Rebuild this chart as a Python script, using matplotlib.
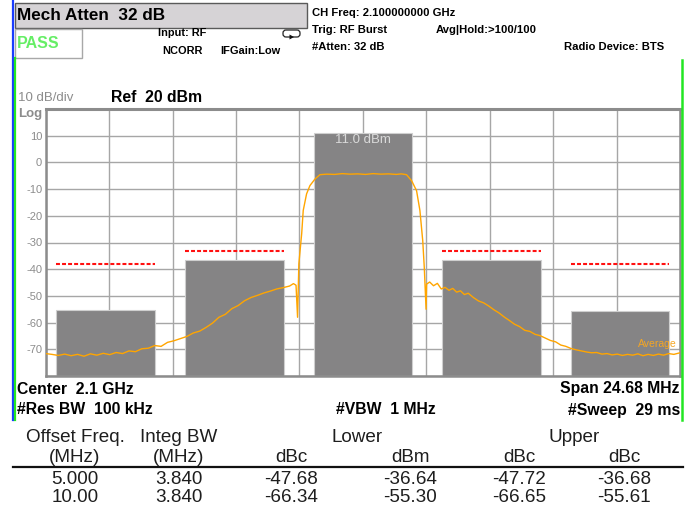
import matplotlib
matplotlib.use("Agg")
import matplotlib.pyplot as plt
from matplotlib.patches import Rectangle, FancyBboxPatch, Polygon
from matplotlib.lines import Line2D
from matplotlib.transforms import Affine2D

# ---- measurement data ----
span_mhz = 24.68
ref_level = 20.0
db_per_div = 10.0

band_offsets = [-10.0, -5.0, 0.0, 5.0, 10.0]          # MHz from carrier
integ_bw = 3.84                                       # MHz
main_power = 11.0                                     # dBm
lower_dbc = [-47.68, -66.34]
lower_dbm = [-36.64, -55.30]
upper_dbc = [-47.72, -66.65]
upper_dbm = [-36.68, -55.61]
limit_levels = [-38.2, -33.2, -33.2, -38.2]           # dBm, adjacent bands

trace_f = [-12.34, -12.1, -11.85, -11.6, -11.35, -11.1, -10.85, -10.6, -10.35, -10.1,
           -9.85, -9.6, -9.35, -9.1, -8.85, -8.6, -8.35, -8.1, -7.85, -7.6,
           -7.35, -7.1, -6.85, -6.6, -6.35, -6.1, -5.85, -5.6, -5.35, -5.1,
           -4.85, -4.6, -4.35, -4.1, -3.85, -3.6, -3.35, -3.1, -2.85, -2.7,
           -2.6, -2.54, -2.49, -2.38, -2.32, -2.19, -2.06, -1.86, -1.67, -1.4,
           -1.1, -0.8, -0.5, -0.2, 0.1, 0.4, 0.7, 1.0, 1.3, 1.5,
           1.70, 1.90, 2.09, 2.22, 2.33, 2.39, 2.46, 2.48, 2.6, 2.75,
           2.9, 3.05, 3.2, 3.35, 3.5, 3.65, 3.8, 3.95, 4.1, 4.3,
           4.5, 4.7, 4.9, 5.1, 5.3, 5.5, 5.7, 5.9, 6.1, 6.3,
           6.5, 6.7, 6.9, 7.1, 7.3, 7.5, 7.7, 7.9, 8.1, 8.3,
           8.5, 8.7, 8.9, 9.1, 9.3, 9.5, 9.7, 9.9, 10.1, 10.3,
           10.5, 10.7, 10.9, 11.1, 11.3, 11.5, 11.7, 11.9, 12.1, 12.34]
trace_dbm = [-71.6, -71.9, -72.3, -71.8, -72.4, -71.9, -72.6, -71.7, -72.2, -71.5,
             -72.0, -71.2, -71.6, -70.6, -70.9, -69.8, -69.6, -68.6, -68.9, -67.4,
             -66.8, -66.0, -65.2, -63.9, -63.2, -61.8, -60.2, -58.0, -56.9, -54.8,
             -53.6, -51.8, -50.6, -49.8, -48.9, -48.2, -47.4, -46.9, -46.3, -45.4,
             -46.0, -58.0, -38.0, -26.7, -18.0, -11.8, -8.7, -6.2, -4.6, -4.4,
             -4.5, -4.2, -4.4, -4.3, -4.5, -4.2, -4.4, -4.3, -4.5, -4.3,
             -4.6, -6.9, -10.6, -18.0, -29.3, -39.3, -55.0, -45.6, -44.8, -46.2,
             -45.3, -47.4, -46.8, -47.9, -47.2, -48.6, -48.1, -49.5, -49.0, -50.6,
             -51.9, -52.6, -53.8, -55.2, -56.4, -57.9, -59.2, -60.6, -61.5, -62.9,
             -63.3, -64.4, -64.9, -65.8, -66.7, -67.2, -68.4, -68.9, -69.7, -70.2,
             -70.6, -71.0, -71.3, -71.2, -71.8, -71.6, -72.1, -71.8, -72.3, -71.9,
             -72.2, -71.7, -72.4, -71.9, -72.3, -71.8, -72.2, -71.6, -71.9, -71.3]

table_offset = ["5.000", "10.00"]
table_bw = ["3.840", "3.840"]

# ---- figure in pixel coordinates (origin top-left) ----
W, H = 693, 508
fig = plt.figure(figsize=(W / 100, H / 100), dpi=100)
fig.patch.set_facecolor("white")
pix = Affine2D().scale(1.0 / W, -1.0 / H).translate(0, 1) + fig.transFigure

FONT = ["Liberation Sans", "DejaVu Sans"]


def ptext(x, y, s, **kw):
    kw.setdefault("va", "center")
    kw.setdefault("family", FONT)
    return fig.text(x, y, s, transform=pix, **kw)


# status bar
fig.add_artist(Rectangle((15, 3), 292, 25, transform=pix, facecolor="#d6d3d6",
                         edgecolor="#5a5a5a", lw=1.0))
ptext(17, 16, "Mech Atten  32 dB", fontsize=12.3, fontweight="bold", color="black")
fig.add_artist(Rectangle((15, 29), 67, 29, transform=pix, facecolor="white",
                         edgecolor="#a8a8a8", lw=1.0))
ptext(17, 43.5, "PASS", fontsize=11.5, fontweight="bold", color="#66ee66")
ptext(182, 33, "Input: RF", fontsize=7.9, fontweight="bold", ha="center")
ptext(182, 51, "NCORR", fontsize=7.9, fontweight="bold", ha="center")
ptext(220, 51, "IFGain:Low", fontsize=7.9, fontweight="bold")
fig.add_artist(FancyBboxPatch((283, 30), 17, 7, boxstyle="round,pad=0,rounding_size=3",
                              transform=pix, facecolor="white", edgecolor="#222222", lw=0.9))
fig.add_artist(Polygon([(289.5, 34.5), (289.5, 39.5), (294, 37)], closed=True,
                       transform=pix, facecolor="#111111", edgecolor="none"))

hk = dict(fontsize=8.1, fontweight="bold")
ptext(312, 13, "CH Freq: 2.100000000 GHz", **hk)
ptext(312, 30, "Trig: RF Burst", **hk)
ptext(436, 30, "Avg|Hold:>100/100", **hk)
ptext(312, 47, "#Atten: 32 dB", **hk)
ptext(564, 47, "Radio Device: BTS", **hk)

# side marker bars
fig.add_artist(Line2D([12.8, 12.8], [0, 420], transform=pix, color="#1a3cff", lw=1.6))
fig.add_artist(Line2D([15.3, 15.3], [58, 420], transform=pix, color="#22e622", lw=1.6))
fig.add_artist(Line2D([682, 682], [60, 420], transform=pix, color="#22e622", lw=1.8))

ptext(18, 98, "10 dB/div", fontsize=9.5, color="#8c8c8c")
ptext(18, 114, "Log", fontsize=9.5, color="#8c8c8c", fontweight="bold")
ptext(111, 98, "Ref  20 dBm", fontsize=11.3, fontweight="bold", color="black")

# ---- spectrum graticule ----
x0, x1, y0, y1 = 45.7, 680.0, 109.0, 376.0
ax = fig.add_axes([x0 / W, 1 - y1 / H, (x1 - x0) / W, (y1 - y0) / H])
half = span_mhz / 2
bottom = ref_level - 10 * db_per_div
ax.set_xlim(-half, half)
ax.set_ylim(bottom, ref_level)
ax.set_xticks([-half + k * span_mhz / 10 for k in range(11)])
yt = [bottom + k * db_per_div for k in range(11)]
ax.set_yticks(yt)
ax.set_yticklabels(["" if v in (bottom, ref_level) else f"{v:.0f}" for v in yt],
                   family=FONT, fontsize=8, color="#8c8c8c")
ax.tick_params(axis="both", length=0, pad=2.5)
ax.tick_params(axis="x", labelbottom=False)
ax.grid(True, color="#a6a6a6", lw=1.0)
ax.set_axisbelow(True)
for s in ax.spines.values():
    s.set_color("#8c8c8c")
    s.set_linewidth(1.8)
ax.spines["top"].set_linewidth(2.2)

band_power = [lower_dbm[1], lower_dbm[0], main_power, upper_dbm[0], upper_dbm[1]]
ax.bar(band_offsets, [p - bottom for p in band_power], width=integ_bw, bottom=bottom,
       color="#858485", edgecolor="#cfcfcf", lw=0.8, zorder=2)
ax.text(band_offsets[2], main_power - 2.6, f"{main_power:.1f} dBm", ha="center", va="center",
        family=FONT, fontsize=9.5, color="#dadada", zorder=3)

adj = [band_offsets[i] for i in (0, 1, 3, 4)]
ax.hlines(limit_levels, [c - integ_bw / 2 for c in adj], [c + integ_bw / 2 for c in adj],
          colors="#ff1010", lw=1.5, linestyles=(0, (1.9, 1.0)), zorder=3)

ax.plot(trace_f, trace_dbm, color="#ffa500", lw=1.0, zorder=4)
ax.text(12.2, -68, "Average", ha="right", va="center", family=FONT, fontsize=7.5,
        color="#f5a623", zorder=5)

# ---- annotation below graticule ----
bk = dict(fontsize=11.3, fontweight="bold")
ptext(17, 389, "Center  2.1 GHz", **bk)
ptext(17, 410, "#Res BW  100 kHz", **bk)
ptext(336, 410, "#VBW  1 MHz", **bk)
ptext(680, 389, "Span 24.68 MHz", ha="right", **bk)
ptext(680, 410, "#Sweep  29 ms", ha="right", **bk)

# ---- ACLR results table ----
cols = [75, 179, 291, 410, 519, 624]
tcol = "#1e1e1e"
tk = dict(fontsize=13.6, color=tcol, ha="center")
ptext(cols[0], 438, "Offset Freq.", **tk)
ptext(cols[1], 438, "Integ BW", **tk)
ptext(357, 438, "Lower", **tk)
ptext(574, 438, "Upper", **tk)
for c, s in zip(cols, ["(MHz)", "(MHz)", "dBc", "dBm", "dBc", "dBc"]):
    ptext(c, 457, s, **tk)
fig.add_artist(Line2D([13, 683], [467, 467], transform=pix, color="#111111", lw=1.6))
for r, yy in enumerate([479, 498]):
    row = [table_offset[r], table_bw[r], f"{lower_dbc[r]:.2f}", f"{lower_dbm[r]:.2f}",
           f"{upper_dbc[r]:.2f}", f"{upper_dbm[r]:.2f}"]
    for c, s in zip(cols, row):
        ptext(c, yy, s, **tk)

fig.savefig("out.png", dpi=100)
